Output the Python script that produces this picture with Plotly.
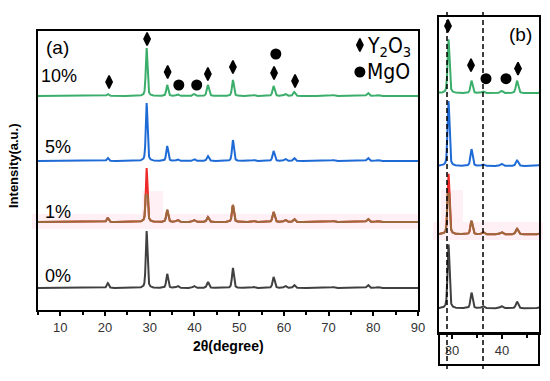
import numpy as np
import plotly.graph_objects as go

W, H = 550, 381

# ---------------- data ----------------
peak_pos = [20.6, 29.3, 33.9, 36.2, 39.9, 43.0, 48.6, 53.3, 57.7, 60.3, 62.3, 71.0, 78.8, 81.0]
peak_fwhm = [0.5, 0.45, 0.5, 0.6, 0.6, 0.55, 0.5, 0.6, 0.55, 0.6, 0.55, 0.8, 0.6, 0.8]

series_names = ["0%", "1%", "5%", "10%"]
baselines = [22, 88, 149, 214]
heights_0 = [5, 57, 14, 2, 2, 6, 20, 1, 11, 2, 3, 1, 3, 1]
heights_1 = [4, 54, 12, 2, 2, 5, 17, 1, 10, 2, 3, 1, 3, 1]
heights_5 = [3, 58, 15, 1.5, 2, 5, 21, 1, 10, 2, 3, 1, 3, 1]
heights_10 = [2, 48, 11, 1.5, 2, 11, 16, 1, 10, 2, 4, 1, 3, 1]
series_heights = [heights_0, heights_1, heights_5, heights_10]
series_colors = ["#404040", "#9a6a3c", "#1f6bd6", "#3aae6a"]
peak_top_color = "#ee2a2a"
red_threshold_a = 118
red_threshold_b = 128

a_diamond_x = [20.9, 29.4, 34.0, 43.0, 48.6, 57.8, 62.5]
a_diamond_y = [228, 271, 238, 236, 243, 237, 229]
a_circle_x = [36.5, 40.5, 58.2]
a_circle_y = [225, 225, 256]

b_diamond_x = [29.2, 33.8, 43.2]
b_diamond_y = [274, 239, 236]
b_circle_x = [36.8, 40.8]
b_circle_y = [227, 227]
b_dashed_x = [29.0, 36.2]

legend_marker_x = [77.0, 77.0]
legend_marker_y = [265, 238]
legend_labels = ["Y<sub>2</sub>O<sub>3</sub>", "MgO"]

a_ticks = [10, 20, 30, 40, 50, 60, 70, 80, 90]
b_ticks = [30, 40]

# ---------------- helpers ----------------
def px(x):
    return x / W

def py(y):
    return 1 - y / H

xg = np.arange(5, 90.001, 0.02)

def profile(heights, base):
    y = np.full_like(xg, float(base))
    for p, w, h in zip(peak_pos, peak_fwhm, heights):
        g = np.exp(-4 * np.log(2) * ((xg - p) / w) ** 2)
        l = 1 / (1 + ((xg - p) / (w / 2)) ** 2)
        y += h * (0.55 * g + 0.45 * l)
    return y

fig = go.Figure()

for k in range(4):
    yv = profile(series_heights[k], baselines[k])
    for xa, ya, thr in (("x", "y", red_threshold_a), ("x2", "y2", red_threshold_b)):
        if k == 1:
            fig.add_trace(go.Scatter(x=xg, y=yv, mode="lines", xaxis=xa, yaxis=ya,
                                     line=dict(color=peak_top_color, width=2),
                                     showlegend=False, hoverinfo="skip"))
            yb = np.where(yv > thr, np.nan, yv)
            fig.add_trace(go.Scatter(x=xg, y=yb, mode="lines", xaxis=xa, yaxis=ya,
                                     line=dict(color=series_colors[k], width=2),
                                     connectgaps=False, showlegend=False, hoverinfo="skip"))
        else:
            fig.add_trace(go.Scatter(x=xg, y=yv, mode="lines", xaxis=xa, yaxis=ya,
                                     line=dict(color=series_colors[k], width=2),
                                     showlegend=False, hoverinfo="skip"))

dia = dict(symbol="diamond-tall", size=9, color="black", line=dict(color="black", width=1.5))
cir = dict(symbol="circle", size=11, color="black")

fig.add_trace(go.Scatter(x=a_diamond_x, y=a_diamond_y, mode="markers", marker=dia,
                         xaxis="x", yaxis="y", showlegend=False, cliponaxis=False))
fig.add_trace(go.Scatter(x=a_circle_x, y=a_circle_y, mode="markers", marker=cir,
                         xaxis="x", yaxis="y", showlegend=False, cliponaxis=False))
fig.add_trace(go.Scatter(x=b_diamond_x, y=b_diamond_y, mode="markers", marker=dia,
                         xaxis="x2", yaxis="y2", showlegend=False, cliponaxis=False))
fig.add_trace(go.Scatter(x=b_circle_x, y=b_circle_y, mode="markers", marker=cir,
                         xaxis="x2", yaxis="y2", showlegend=False, cliponaxis=False))
fig.add_trace(go.Scatter(x=legend_marker_x[:1], y=legend_marker_y[:1], mode="markers", marker=dia,
                         xaxis="x", yaxis="y", showlegend=False))
fig.add_trace(go.Scatter(x=legend_marker_x[1:], y=legend_marker_y[1:], mode="markers", marker=cir,
                         xaxis="x", yaxis="y", showlegend=False))

font = "Arial, Liberation Sans, sans-serif"
narrow = "DejaVu Sans Condensed, Liberation Sans Narrow, Arial Narrow, sans-serif"
axis_common = dict(showline=True, linecolor="black", linewidth=2, mirror=True,
                   showgrid=False, zeroline=False)

fig.update_layout(
    width=W, height=H, margin=dict(l=0, r=0, t=0, b=0, autoexpand=False),
    paper_bgcolor="white", plot_bgcolor="rgba(0,0,0,0)",
    showlegend=False,
    font=dict(family=font, color="#222", size=13),
    xaxis=dict(domain=[px(38), px(418)], range=[5, 90], tickvals=a_ticks,
               ticks="outside", ticklen=4, tickwidth=1.5, tickcolor="black",
               minor=dict(ticks="outside", ticklen=3, tickwidth=1.5, tickcolor="black", dtick=5, tick0=5),
               tickfont=dict(size=13, color="#333"), anchor="y", **axis_common),
    yaxis=dict(domain=[py(310), py(31)], range=[0, 279], showticklabels=False, ticks="",
               anchor="x", **axis_common),
    xaxis2=dict(domain=[px(439), px(539)], range=[27.4, 47.4], tickvals=b_ticks,
                ticks="outside", ticklen=4, tickwidth=1.5, tickcolor="black",
                minor=dict(ticks="outside", ticklen=3, tickwidth=1.5, tickcolor="black", dtick=5, tick0=25),
                tickfont=dict(size=13, color="#333"), anchor="y2", **axis_common),
    yaxis2=dict(domain=[py(333), py(17)], range=[0, 282], showticklabels=False, ticks="",
                anchor="x2", **axis_common),
)

shapes = []
pink = "#fef0f5"
for (x0, y0, x1, y1) in [(32, 214, 418, 229), (142, 191, 163, 214),
                         (433, 222, 543, 240), (441, 190, 463, 222)]:
    shapes.append(dict(type="rect", xref="paper", yref="paper", x0=px(x0), x1=px(x1),
                       y0=py(y1), y1=py(y0), fillcolor=pink, line=dict(width=0), layer="below"))
for xd in b_dashed_x:
    shapes.append(dict(type="line", xref="x2", yref="paper", x0=xd, x1=xd, y0=py(369), y1=py(10),
                       line=dict(color="black", width=1.5, dash="5px,3px")))
shapes.append(dict(type="rect", xref="paper", yref="paper", x0=px(439), x1=px(539),
                   y0=py(365), y1=py(333), line=dict(color="black", width=2)))
fig.update_layout(shapes=shapes)

ann = []
def label(text, x, y, size, family=font, xanchor="center", textangle=0):
    ann.append(dict(text=text, x=px(x), y=py(y), xref="paper", yref="paper", showarrow=False,
                    xanchor=xanchor, yanchor="middle", textangle=textangle,
                    font=dict(size=size, color="black", family=family)))

label("(a)", 57, 47, 19)
label("(b)", 520, 35, 19)
label("10%", 59, 76, 18)
label("5%", 58, 147, 18)
label("1%", 58, 212, 18)
label("0%", 58, 276, 18)
label(legend_labels[0], 365, 47, 21, family=narrow, xanchor="left")
label(legend_labels[1], 365, 72, 21, family=narrow, xanchor="left")
label("<b>2θ(degree)</b>", 228, 346, 14)
label("<b>Intensity(a.u.)</b>", 13, 166, 13, textangle=-90)
fig.update_layout(annotations=ann)

fig.write_html("out.html", config={"displayModeBar": False},
               post_script="document.body.style.margin='0';")
